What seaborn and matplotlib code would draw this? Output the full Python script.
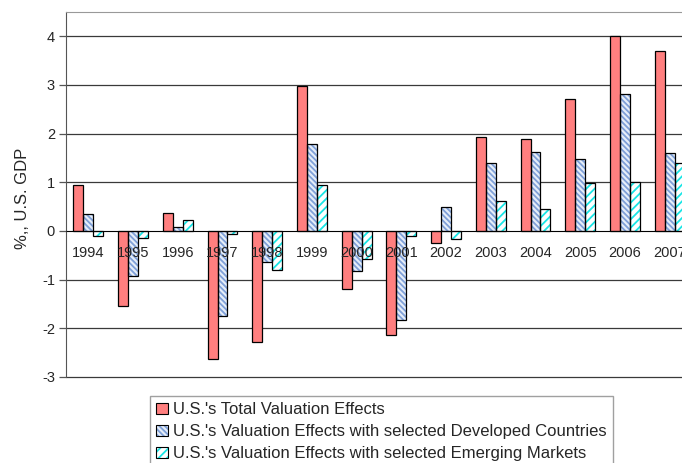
import matplotlib
matplotlib.use("Agg")
import matplotlib.pyplot as plt
from matplotlib.patches import Rectangle, Patch
from matplotlib.legend_handler import HandlerTuple
import numpy as np
import pandas as pd
import seaborn as sns

# values (% of U.S. GDP)
years = ["1994", "1995", "1996", "1997", "1998", "1999", "2000",
         "2001", "2002", "2003", "2004", "2005", "2006", "2007"]
total = [0.94, -1.55, 0.38, -2.64, -2.29, 2.97, -1.20,
         -2.14, -0.25, 1.94, 1.89, 2.71, 4.01, 3.70]
developed = [0.34, -0.93, 0.09, -1.75, -0.63, 1.79, -0.82,
             -1.83, 0.49, 1.40, 1.63, 1.47, 2.81, 1.60]
emerging = [-0.10, -0.14, 0.22, -0.07, -0.80, 0.94, -0.58,
            -0.10, -0.16, 0.62, 0.45, 0.99, 1.01, 1.40]
series = ["U.S.'s Total Valuation Effects",
          "U.S.'s Valuation Effects with selected Developed Countries",
          "U.S.'s Valuation Effects with selected Emerging Markets"]
yticks = [-3, -2, -1, 0, 1, 2, 3, 4]

df = pd.DataFrame({
    "year": years * 3,
    "value": total + developed + emerging,
    "series": [series[0]] * 14 + [series[1]] * 14 + [series[2]] * 14,
})

# face colour, hatch, hatch colour
styles = [("#FF7F7F", "", "black"),
          ("#E6EEF9", "\\\\\\\\\\\\", "#7FA0D8"),
          ("white", "////", "#19E6E6")]

sns.set_style("white")
plt.rcParams['font.family'] = ['Liberation Sans', 'DejaVu Sans']
plt.rcParams['hatch.linewidth'] = 1.3

fig = plt.figure(figsize=(6.82, 4.63), dpi=100)
ax = fig.add_axes([66/682, 1 - 377/463, 626/682, 365/463])

sns.barplot(data=df, x="year", y="value", hue="series", order=years,
            hue_order=series, palette=[s[0] for s in styles], width=0.67,
            saturation=1, errorbar=None, legend=False, ax=ax)
ax.set_axisbelow(False)

bars = list(ax.patches)
for i, p in enumerate(bars):
    face, hatch, hcol = styles[i // len(years)]
    p.set_facecolor(face)
    p.set_zorder(1)
    if hatch:
        p.set_hatch(hatch)
        p.set_edgecolor(hcol)
    else:
        p.set_edgecolor("black")
    p.set_linewidth(0)
    ax.add_patch(Rectangle((p.get_x(), p.get_y()), p.get_width(), p.get_height(),
                           fill=False, edgecolor="black", lw=0.9, zorder=1.1))

ax.set_xlim(-0.5, len(years) - 0.5)
ax.set_ylim(-3, 4.5)

# gridlines behind bars
ax.hlines([t for t in yticks if t != 0], 0, 1, transform=ax.get_yaxis_transform(),
          colors="#3a3a3a", lw=0.9, zorder=0.5, clip_on=False)

ax.spines['bottom'].set_position(('data', 0))
ax.spines['bottom'].set_color("black")
ax.spines['left'].set_color("#555555")
ax.spines['top'].set_color("#999999")
ax.spines['right'].set_visible(False)

ax.set_xticks(range(len(years)))
ax.set_xticklabels(years, fontsize=10.5)
ax.set_xticks(np.arange(-0.5, len(years), 1), minor=True)
ax.tick_params(axis='x', which='major', length=0, pad=10.5)
ax.tick_params(axis='x', which='minor', length=4, width=0.9, color="black", direction="out")

ax.set_yticks(yticks)
ax.set_yticklabels([str(t) for t in yticks], fontsize=10.5)
ax.tick_params(axis='y', length=5, width=0.9, color="#555555", direction="out", pad=3, left=True)

ax.set_xlabel("")
ax.set_ylabel("%,, U.S. GDP", fontsize=12)
ax.yaxis.set_label_coords(-0.058, 0.49)

handles = []
for face, hatch, hcol in styles:
    if hatch:
        h = (Patch(facecolor=face, hatch=hatch, edgecolor=hcol, lw=0),
             Patch(fill=False, edgecolor="black", lw=0.8))
    else:
        h = (Patch(facecolor=face, edgecolor="black", lw=0.8),)
    handles.append(h)

leg = fig.legend(handles, series, loc="upper left",
                 bbox_to_anchor=(150/682, 1 - 396/463), fontsize=12,
                 handler_map={tuple: HandlerTuple(ndivide=1)},
                 frameon=True, fancybox=False, edgecolor="#888888",
                 handlelength=0.7, handleheight=0.7, handletextpad=0.3,
                 labelspacing=0.42, borderpad=0.38, borderaxespad=0)
leg.get_frame().set_linewidth(1.0)

fig.savefig("out.png", dpi=100)
